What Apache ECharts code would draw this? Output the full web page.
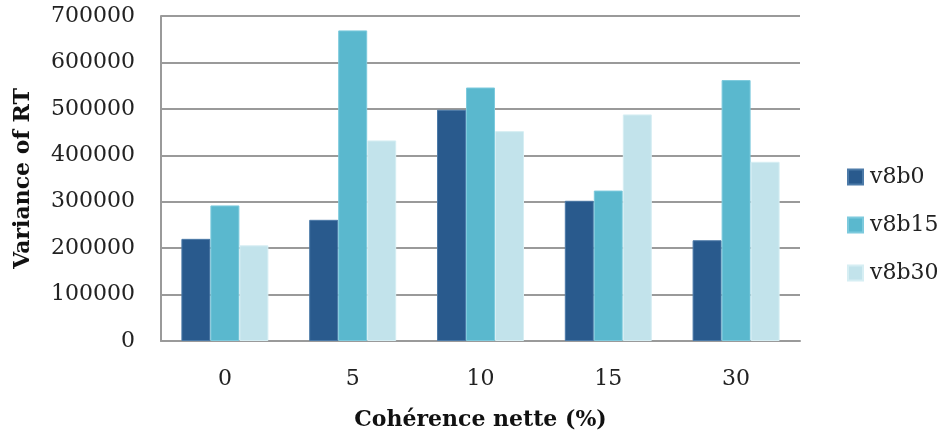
<!DOCTYPE html>
<html>
<head>
<meta charset="utf-8">
<script src="https://cdn.jsdelivr.net/npm/echarts@6/dist/echarts.min.js"></script>
<style>
  html, body { margin: 0; padding: 0; background: #fff; }
  #chart { width: 946px; height: 438px; }
</style>
</head>
<body>
<div id="chart"></div>
<script>
// Coherence levels (%) and variance of RT per condition
const categories = ['0', '5', '10', '15', '30'];
const v8b0 = [220000, 261000, 498000, 302000, 217000];
const v8b15 = [292000, 669000, 546000, 324000, 562000];
const v8b30 = [206000, 432000, 452000, 488000, 386000];
const seriesNames = ['v8b0', 'v8b15', 'v8b30'];

const FONT = 'DejaVu Serif';
const fills = ['#295A8D', '#5AB8CE', '#C2E3EB'];
const edges = ['#4C7AA8', '#7DCADD', '#D6EEF3'];

function bar(name, data, i) {
  return {
    name: name,
    type: 'bar',
    data: data,
    barWidth: 29,
    barGap: '0%',
    itemStyle: { color: fills[i], borderColor: edges[i], borderWidth: 1 }
  };
}

const chart = echarts.init(document.getElementById('chart'), null, { renderer: 'canvas' });
chart.setOption({
  animation: false,
  textStyle: { fontFamily: FONT, color: '#222' },
  grid: { left: 161, right: 146, top: 16, bottom: 97, containLabel: false },
  legend: {
    orient: 'vertical',
    left: 847,
    top: 166,
    padding: 0,
    itemWidth: 15,
    itemHeight: 15,
    itemGap: 26,
    icon: 'rect',
    textStyle: { fontFamily: FONT, fontSize: 22, color: '#222', padding: [0, 0, 0, 2] },
    data: seriesNames
  },
  xAxis: {
    type: 'category',
    data: categories,
    name: 'Cohérence nette (%)',
    nameLocation: 'middle',
    nameGap: 68,
    nameTextStyle: { fontFamily: FONT, fontSize: 22, fontWeight: 'bold', color: '#111' },
    axisLine: { lineStyle: { color: '#9a9a9a', width: 2 } },
    axisTick: { show: false },
    axisLabel: { fontFamily: FONT, fontSize: 22, color: '#222', margin: 27 }
  },
  yAxis: {
    type: 'value',
    min: 0,
    max: 700000,
    interval: 100000,
    name: 'Variance of RT',
    nameLocation: 'middle',
    nameGap: 127,
    nameRotate: 90,
    nameTextStyle: { fontFamily: FONT, fontSize: 22, fontWeight: 'bold', color: '#111' },
    axisLine: { show: true, lineStyle: { color: '#9a9a9a', width: 2 } },
    axisTick: { show: false },
    axisLabel: {
      fontFamily: FONT, fontSize: 22, color: '#222', margin: 26,
      formatter: function (v) { return String(v); }
    },
    splitLine: { lineStyle: { color: '#9a9a9a', width: 2 } }
  },
  series: [
    bar(seriesNames[0], v8b0, 0),
    bar(seriesNames[1], v8b15, 1),
    bar(seriesNames[2], v8b30, 2)
  ]
});
</script>
</body>
</html>
